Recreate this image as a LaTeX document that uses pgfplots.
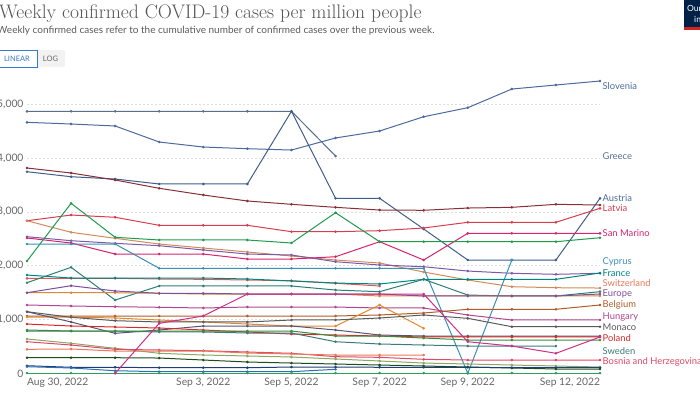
\documentclass[border=0pt]{standalone}
\usepackage{fontspec}
\setsansfont{Lato}
\usepackage{pgfplots}
\pgfplotsset{compat=1.18}
\definecolor{titlegrey}{HTML}{555555}
\definecolor{subgrey}{HTML}{5B5B5B}
\definecolor{tickgrey}{HTML}{666666}
\definecolor{btnblue}{HTML}{3A78C8}
\definecolor{owidnavy}{HTML}{002147}
\definecolor{owidred}{HTML}{CE261E}
\definecolor{cSlo}{HTML}{4C6A9C}
\definecolor{cGre}{HTML}{5A6E8C}
\definecolor{cAut}{HTML}{3F5E8C}
\definecolor{cMar}{HTML}{883039}
\definecolor{cLat}{HTML}{D73C50}
\definecolor{cTan}{HTML}{D08A5C}
\definecolor{cPur}{HTML}{7B5BA6}
\definecolor{cSM}{HTML}{D6246E}
\definecolor{cCyp}{HTML}{3A8FB7}
\definecolor{cGrn}{HTML}{1E9B4F}
\definecolor{cFra}{HTML}{00847E}
\definecolor{cT2}{HTML}{2C7F78}
\definecolor{cEur}{HTML}{7E4F9A}
\definecolor{cOr1}{HTML}{D9883A}
\definecolor{cOr2}{HTML}{E08A2B}
\definecolor{cBel}{HTML}{B05C28}
\definecolor{cHun}{HTML}{B0468D}
\definecolor{cMon}{HTML}{5A5A5A}
\definecolor{cZ}{HTML}{CF2E8A}
\definecolor{cSlate}{HTML}{555577}
\definecolor{cPol}{HTML}{D52A2A}
\definecolor{cSwe}{HTML}{3C7C78}
\definecolor{cGr2}{HTML}{3B8B3B}
\definecolor{cOli}{HTML}{8BA865}
\definecolor{cBos}{HTML}{E04867}
\definecolor{cSal}{HTML}{E8785A}
\definecolor{cDkg}{HTML}{1F4D1A}
\definecolor{cNav}{HTML}{1D3F74}
\definecolor{cBlu}{HTML}{2F6DB5}
\definecolor{cG0}{HTML}{2CA05A}
\definecolor{cR2}{HTML}{D85A5A}
\begin{document}
\begin{tikzpicture}
\useasboundingbox (0pt,0pt) rectangle (700pt,-400pt);
% title and subtitle
\node[anchor=base west, inner sep=0, text=titlegrey, font=\fontsize{19.6}{22}\selectfont] at (-1pt,-18pt) {Weekly confirmed COVID-19 cases per million people};
\node[anchor=base west, inner sep=0, text=subgrey, font=\sffamily\fontsize{10}{12}\selectfont] at (-3pt,-33pt) {Weekly confirmed cases refer to the cumulative number of confirmed cases over the previous week.};
% buttons
\fill[gray!10, rounded corners=2pt] (30pt,-50pt) rectangle (65pt,-67pt);
\draw[btnblue, fill=white, line width=0.6pt] (-5pt,-50pt) rectangle (37pt,-67pt);
\node[text=btnblue, font=\sffamily\fontsize{7.5}{9}\selectfont, inner sep=0] at (17pt,-58.5pt) {LINEAR};
\node[text=tickgrey, font=\sffamily\fontsize{7.5}{9}\selectfont, inner sep=0] at (50.5pt,-58.5pt) {LOG};
% logo
\fill[owidnavy] (684pt,0pt) rectangle (730pt,-27pt);
\fill[owidred] (684pt,-27pt) rectangle (730pt,-30pt);
\node[anchor=base west, inner sep=0, text=white, font=\sffamily\fontsize{8.5}{10}\selectfont] at (687pt,-11pt) {Our World};
\node[anchor=base west, inner sep=0, text=white, font=\sffamily\fontsize{8.5}{10}\selectfont] at (694pt,-22pt) {in Data};
\begin{axis}[
  at={(27pt,-373.3pt)}, anchor=south west,
  scale only axis, width=573pt, height=295.9pt,
  xmin=0, xmax=13, ymin=0, ymax=5500,
  clip=false,
  axis line style={draw=none},
  tick style={draw=none},
  ytick={0,1000,2000,3000,4000,5000},
  yticklabels={0,{1,000},{2,000},{3,000},{4,000},{5,000}},
  xtick={0,4,6,8,10,13},
  xticklabels={{\makebox[0pt][l]{Aug 30, 2022}},{Sep 3, 2022},{Sep 5, 2022},{Sep 7, 2022},{Sep 9, 2022},{\makebox[0pt][r]{Sep 12, 2022}}},
  tick label style={font=\sffamily\fontsize{10.3}{12}\selectfont, text=tickgrey},
  yticklabel style={xshift=0pt},
  xticklabel style={yshift=-1pt},
  ymajorgrids,
  grid style={dash pattern=on 2pt off 2pt, color=black!13, line width=0.5pt},
  every axis plot/.append style={line width=1pt, mark=*, mark size=0.75pt, mark options={solid}},
]
% upper series
\addplot[cGre] coordinates {(0,4870)(1,4870)(2,4870)(3,4870)(4,4870)(5,4870)(6,4870)(7,4039)};
\addplot[cSlo] coordinates {(0,4665)(1,4634)(2,4597)(3,4299)(4,4206)(5,4175)(6,4150)(7,4374)(8,4504)(9,4769)(10,4937)(11,5284)(12,5359)(13,5433)};
\addplot[cAut] coordinates {(0,3747)(1,3654)(2,3611)(3,3519)(4,3519)(5,3519)(6,4870)(7,3253)(8,3253)(9,2682)(10,2106)(11,2106)(12,2106)(13,3253)};
\addplot[cMar] coordinates {(0,3816)(1,3723)(2,3593)(3,3439)(4,3314)(5,3203)(6,3141)(7,3085)(8,3035)(9,3030)(10,3072)(11,3085)(12,3141)(13,3128)};
\addplot[cLat] coordinates {(0,2836)(1,2942)(2,2900)(3,2751)(4,2751)(5,2751)(6,2632)(7,2632)(8,2651)(9,2701)(10,2807)(11,2807)(12,2807)(13,3067)};
\addplot[cTan] coordinates {(0,2836)(1,2621)(2,2509)(3,2403)(4,2329)(5,2255)(6,2180)(7,2106)(8,2050)(9,1883)(10,1734)(11,1610)(12,1591)(13,1585)};
\addplot[cPur] coordinates {(0,2539)(1,2465)(2,2416)(3,2372)(4,2292)(5,2217)(6,2199)(7,2074)(8,2013)(9,1981)(10,1901)(11,1859)(12,1840)(13,1859)};
\addplot[cSM] coordinates {(0,2515)(1,2422)(2,2217)(3,2217)(4,2217)(5,2124)(6,2124)(7,2167)(8,2446)(9,2106)(10,2602)(11,2602)(12,2602)(13,2602)};
\addplot[cGrn] coordinates {(0,2087)(1,3160)(2,2528)(3,2478)(4,2478)(5,2478)(6,2422)(7,2985)(8,2446)(9,2446)(10,2446)(11,2446)(12,2446)(13,2520)};
\addplot[cCyp] coordinates {(0,2403)(1,2403)(2,2403)(3,1952)(4,1952)(5,1952)(6,1952)(7,1952)(8,1952)(9,1952)(10,0)(11,2106)};
% middle series
\addplot[cR2] coordinates {(0,1766)(1,1766)(2,1766)(3,1753)(4,1747)(5,1734)(6,1721)(7,1673)(8,1623)};
\addplot[cFra] coordinates {(0,1827)(1,1771)(2,1771)(3,1771)(4,1771)(5,1753)(6,1716)(7,1678)(8,1660)(9,1747)(10,1747)(11,1747)(12,1747)(13,1864)};
\addplot[cT2] coordinates {(0,1684)(1,1970)(2,1362)(3,1623)(4,1623)(5,1623)(6,1623)(7,1548)(8,1517)(9,1747)(10,1455)(11,1437)(12,1437)(13,1517)};
\addplot[cOr1] coordinates {(0,1498)(1,1498)(2,1498)(3,1487)(4,1474)(5,1474)(6,1474)(7,1474)(8,1437)(9,1437)(10,1437)(11,1437)(12,1437)(13,1437)};
\addplot[cEur] coordinates {(0,1498)(1,1628)(2,1530)(3,1487)(4,1487)(5,1474)(6,1474)(7,1474)(8,1474)(9,1437)(10,1437)(11,1437)(12,1437)(13,1474)};
\addplot[cHun] coordinates {(0,1270)(1,1251)(2,1238)(3,1227)(4,1214)(5,1232)(6,1232)(7,1232)(8,1214)(9,1214)(10,1084)(11,991)(12,991)(13,991)};
\addplot[cBel] coordinates {(0,1065)(1,1065)(2,1065)(3,1065)(4,1065)(5,1065)(6,1065)(7,1065)(8,1084)(9,1121)(10,1190)(11,1190)(12,1190)(13,1270)};
\addplot[cOr2] coordinates {(0,1046)(1,1046)(2,1028)(3,991)(4,954)(5,916)(6,879)(7,879)(8,1270)(9,836)};
\addplot[cMon] coordinates {(0,1145)(1,1041)(2,978)(3,954)(4,954)(5,954)(6,991)(7,991)(8,1028)(9,1084)(10,1022)(11,866)(12,866)(13,866)};
\addplot[cSlate] coordinates {(0,1145)(1,954)(2,743)(3,805)(4,879)(5,879)(6,879)(7,805)(8,712)(9,693)(10,693)(11,693)(12,693)(13,693)};
\addplot[cPol] coordinates {(0,916)(1,879)(2,861)(3,842)(4,805)(5,768)(6,730)(7,712)(8,693)(9,675)(10,675)(11,675)(12,675)(13,675)};
% lower series
\addplot[cSwe] coordinates {(0,805)(1,786)(2,786)(3,768)(4,768)(5,749)(6,749)(7,587)(8,545)(9,526)(10,507)(11,507)(12,507)};
\addplot[cGr2] coordinates {(0,786)(1,786)(2,786)(3,786)(4,786)(5,786)(6,786)(7,693)(8,693)(9,656)(10,619)(11,619)(12,619)(13,619)};
\addplot[cOli] coordinates {(0,638)(1,558)(2,465)(3,372)(4,340)(5,322)(6,303)(7,266)(8,229)(9,191)(10,173)(11,154)(12,136)(13,117)};
\addplot[cBos] coordinates {(0,587)(1,526)(2,446)(3,433)(4,420)(5,396)(6,372)(7,309)(8,297)(9,260)(10,247)(11,247)(12,247)(13,247)};
\addplot[cSal] coordinates {(0,446)(1,452)(2,414)(3,414)(4,414)(5,377)(6,359)(7,340)(8,340)(9,340)};
\addplot[cDkg] coordinates {(0,290)(1,290)(2,290)(3,284)(4,247)(5,210)(6,191)(7,173)(8,154)(9,136)(10,117)(11,99)(12,80)(13,80)};
\addplot[cNav] coordinates {(0,141)(1,112)(2,112)(3,104)(4,104)(5,104)(6,117)(7,117)(8,112)(9,112)(10,112)(11,104)(12,104)(13,104)};
\addplot[cBlu] coordinates {(0,123)(1,99)(2,48)(3,30)(4,30)(5,30)(6,30)(7,74)};
\addplot[cG0] coordinates {(0,5)(1,5)(2,5)(3,5)(4,5)(5,5)(6,5)(7,5)(8,5)(9,5)(10,5)(11,5)(12,5)(13,5)};
\addplot[cZ] coordinates {(2,0)(3,929)(4,1065)(5,1474)(6,1474)(7,1474)(8,1474)(9,1474)(10,587)(11,507)(12,372)(13,675)};
% end labels
\tikzset{lbl/.style={anchor=west, inner sep=0.5pt, xshift=2pt, font=\sffamily\fontsize{9.4}{11}\selectfont}}
\node[lbl, text=cSlo] at (axis cs:13,5340) {Slovenia};
\node[lbl, text=cGre] at (axis cs:13,4039) {Greece};
\node[lbl, text=cSlo] at (axis cs:13,3259) {Austria};
\node[lbl, text=cLat] at (axis cs:13,3073) {Latvia};
\node[lbl, text=cSM] at (axis cs:13,2608) {San Marino};
\node[lbl, text=cCyp] at (axis cs:13,2074) {Cyprus};
\node[lbl, text=cFra] at (axis cs:13,1870) {France};
\node[lbl, text=cSal] at (axis cs:13,1673) {Switzerland};
\node[lbl, text=cEur] at (axis cs:13,1468) {Europe};
\node[lbl, text=cBel] at (axis cs:13,1270) {Belgium};
\node[lbl, text=cHun] at (axis cs:13,1041) {Hungary};
\node[lbl, text=cMon] at (axis cs:13,866) {Monaco};
\node[lbl, text=cPol] at (axis cs:13,651) {Poland};
\node[lbl, text=cSwe] at (axis cs:13,420) {Sweden};
\node[lbl, text=cBos] at (axis cs:13,216) {Bosnia and Herzegovina};
\end{axis}
\end{tikzpicture}
\end{document}
